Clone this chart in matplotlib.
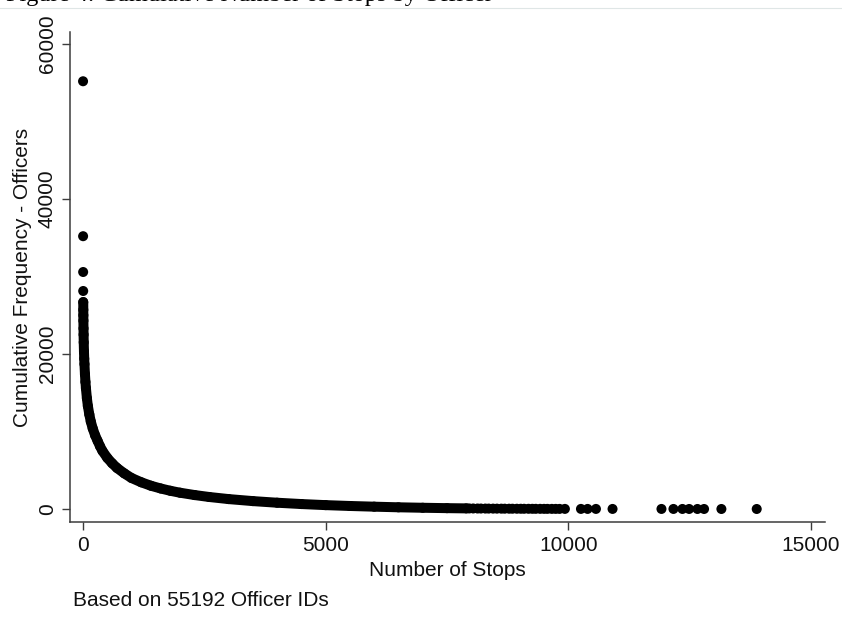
import numpy as np
import matplotlib
matplotlib.use("Agg")
import matplotlib.pyplot as plt
from matplotlib.lines import Line2D

plt.rcParams['font.family'] = ['Liberation Sans', 'DejaVu Sans']

# officers with at least N stops
top_stops = [1, 2, 3, 4]
top_officers = [55192, 35200, 30580, 28130]

band_stops = [5, 6, 7, 8, 10, 12, 15, 20, 25, 30, 40, 50, 60, 80, 100, 130, 160, 200,
              250, 300, 350, 400, 500, 600, 700, 850, 1000, 1200, 1400, 1600, 1800, 2000,
              2300, 2600, 3000, 3500, 4000, 4500, 5000, 5500, 6000, 6500, 7000, 7500, 7900]
band_officers = [26700, 25700, 25000, 24300, 23300, 22500, 21500, 20300, 19400, 18700,
                 17400, 16400, 15600, 14300, 13300, 12200, 11300, 10400, 9500, 8800, 8100,
                 7500, 6600, 5900, 5300, 4600, 4000, 3450, 3000, 2650, 2350, 2100, 1800,
                 1550, 1280, 1020, 810, 640, 500, 390, 300, 220, 160, 110, 80]

tail_stops = [7960, 8040, 8130, 8200, 8290, 8360, 8450, 8530, 8620, 8690, 8780, 8850,
              8940, 9020, 9090, 9180, 9260, 9330, 9420, 9500, 9570, 9660, 9740, 9820,
              9930, 10261, 10398, 10570, 10912, 11920, 12167, 12352, 12490, 12661,
              12798, 13155, 13883]
tail_officers = [72, 68, 64, 60, 57, 54, 50, 47, 44, 41, 38, 36, 33, 31, 29, 27, 25, 23,
                 21, 19, 18, 16, 15, 14, 13, 12, 11, 10, 9, 8, 7, 6, 5, 4, 3, 2, 1]

x_ticks = [0, 5000, 10000, 15000]
y_ticks = [0, 20000, 40000, 60000]
n_ids = 55192

W, H = 842, 635
INK = '#3c3c3c'
TXT = '#111111'
FS = 15


def main():
    fig = plt.figure(figsize=(W / 100, H / 100), dpi=100)
    x0, x1, y0, y1 = 70, 825, 32, 522
    ax = fig.add_axes([x0 / W, 1 - y1 / H, (x1 - x0) / W, (y1 - y0) / H])

    # dense part of the curve: markers overlap into a solid band
    ax.plot(band_stops, band_officers, color='black', lw=7.2,
            solid_capstyle='round', solid_joinstyle='round', zorder=3)
    ax.scatter(top_stops + band_stops + tail_stops,
               top_officers + band_officers + tail_officers,
               s=52, color='black', edgecolors='none', zorder=3)

    ax.set_xlim(-268, 15290)
    ax.set_ylim(-1677, 61548)
    ax.set_xticks(x_ticks)
    ax.set_yticks(y_ticks)
    ax.set_xticklabels([str(v) for v in x_ticks], fontsize=FS)
    ax.set_yticklabels([str(v) for v in y_ticks], fontsize=FS,
                       rotation=90, va='center')

    for side in ('top', 'right'):
        ax.spines[side].set_visible(False)
    for side in ('left', 'bottom'):
        ax.spines[side].set_color(INK)
        ax.spines[side].set_linewidth(1.1)
    ax.tick_params(axis='both', direction='out', length=5.5, width=1.0,
                   color=INK, labelcolor=TXT)
    ax.tick_params(axis='x', pad=4.6)
    ax.tick_params(axis='y', pad=3.9)

    ax.set_xlabel('Number of Stops', fontsize=FS, color=TXT)
    ax.xaxis.label.set_va('baseline')
    ax.xaxis.set_label_coords((447 - x0) / (x1 - x0), -(576 - y1) / (y1 - y0))
    ax.set_ylabel('Cumulative Frequency - Officers', fontsize=FS, color=TXT)
    ax.yaxis.set_label_coords(-(x0 - 32.5) / (x1 - x0), 0.5)

    fig.text(73 / W, 1 - 606 / H, 'Based on %d Officer IDs' % n_ids,
             fontsize=FS, color=TXT, va='baseline')

    # page heading above the graph, mostly cut off by the crop
    fig.text(6 / W, 1 - 1.5 / H, 'Figure 4: Cumulative Number of Stops by Officer',
             family=['Liberation Serif', 'DejaVu Serif'], fontsize=17.5,
             va='baseline', color='black')
    fig.add_artist(Line2D([0, 1], [1 - 7.5 / H, 1 - 7.5 / H], transform=fig.transFigure,
                          color='#dfe6e6', lw=0.8))

    fig.savefig('out.png', dpi=100)
    plt.close(fig)


if __name__ == '__main__':
    main()
